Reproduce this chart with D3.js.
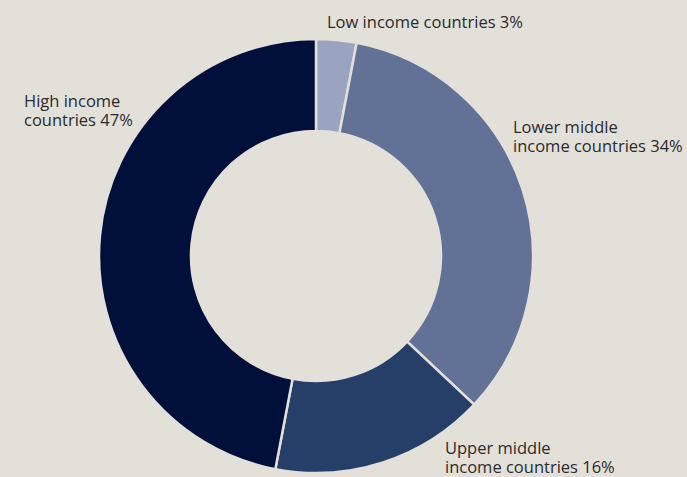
<!DOCTYPE html>
<html><head><meta charset="utf-8">
<script src="https://cdn.jsdelivr.net/npm/d3@7"></script>
<style>html,body{margin:0;padding:0;background:#e3dfd9;}</style>
</head><body>
<svg id="c" width="687" height="477"></svg>
<script>
const categories = ["Low income countries", "Lower middle income countries", "Upper middle income countries", "High income countries"];
const values = [3, 34, 16, 47];
const colors = ["#9aa4c0", "#627296", "#263f69", "#00103a"];
const labelLines = [["Low income countries 3%"], ["Lower middle", "income countries 34%"], ["Upper middle", "income countries 16%"], ["High income", "countries 47%"]];
const labelPos = [[327, 28], [513, 133], [445, 454], [24, 107]];

const svg = d3.select("#c");
svg.append("rect").attr("width", 687).attr("height", 477).attr("fill", "#e3dfd9");
const cx = 316, cy = 256, rOuter = 217, rInner = 125;
const pie = d3.pie().sort(null).value(d => d)(values);
const arc = d3.arc().innerRadius(rInner).outerRadius(rOuter);
const g = svg.append("g").attr("transform", `translate(${cx},${cy})`);
g.selectAll("path").data(pie).join("path")
  .attr("d", arc)
  .attr("fill", (d, i) => colors[i])
  .attr("stroke", "#e3dfd9").attr("stroke-width", 2.5);

labelLines.forEach((lines, i) => {
  const t = svg.append("text").attr("x", labelPos[i][0]).attr("y", labelPos[i][1])
    .attr("font-family", "'Open Sans', sans-serif").attr("font-size", 16.5).attr("fill", "#2b2b2b");
  lines.forEach((l, j) => t.append("tspan").attr("x", labelPos[i][0]).attr("dy", j === 0 ? 0 : 19).text(l));
});
</script>
</body></html>
